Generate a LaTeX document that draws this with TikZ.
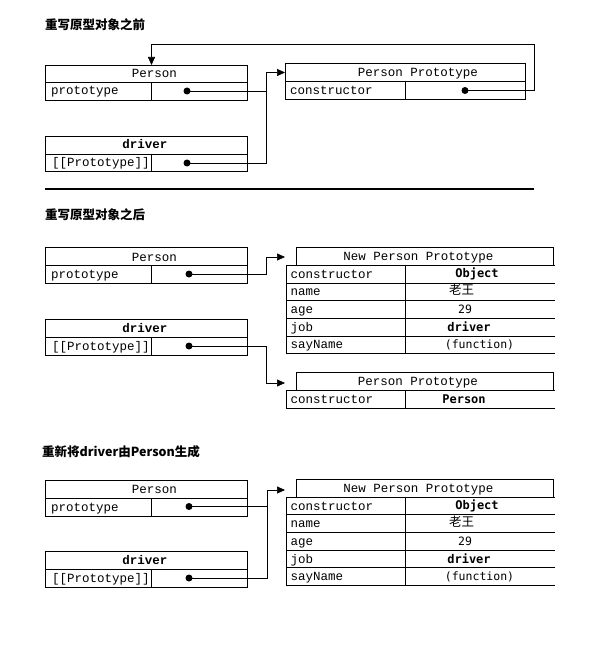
\documentclass[tikz,border=0pt]{standalone}
\usepackage{fontspec}
\setmonofont{Liberation Mono}
\newfontfamily\cjk{Noto Sans CJK SC}
\newfontfamily\valfont{DejaVu Sans Mono}
\usetikzlibrary{arrows.meta}
\tikzset{
  box/.style={draw, line width=0.9pt},
  hdr/.style={draw, line width=0.9pt, inner sep=0, outer sep=0, anchor=north west},
  htxt/.style={font=\ttfamily\fontsize{12.5}{14}\selectfont, inner sep=0, anchor=base},
  lbl/.style={font=\ttfamily\fontsize{12.5}{14}\selectfont, inner sep=0, anchor=base west},
  val/.style={font=\valfont\fontsize{11.5}{14}\selectfont, inner sep=0, anchor=base},
  bval/.style={font=\valfont\bfseries\fontsize{12}{14}\selectfont, inner sep=0, anchor=base},
  dotn/.style={circle, fill, inner sep=0, minimum size=7pt},
  link/.style={line width=0.7pt},
  tip/.style={-{Triangle[length=8pt,width=7pt]}},
  title/.style={font=\cjk\bfseries\fontsize{12.5}{14}\selectfont, anchor=west, inner sep=0},
}
\begin{document}
\begin{tikzpicture}[x=1pt,y=-1pt]
\useasboundingbox[fill=white] (0,0) rectangle (596,647);

% ================= Section 1 =================
\node[title] (t1) at (45,25) {重写原型对象之前};

% Person
\node[hdr, minimum width=201.5pt, minimum height=17.5pt] (pA) at (45.5,65) {};
\node[htxt] (pAt) at (154.5,78) {Person};
\draw[box] (45.5,82.5) rectangle (247,100) (151.5,82.5) -- (151.5,100);
\node[lbl] (pAl) at (51,95) {prototype};
\node[dotn] (pAd) at (187,91) {};

% driver
\node[hdr, minimum width=201.5pt, minimum height=18pt] (dA) at (45.5,136) {};
\node[htxt, font=\ttfamily\bfseries\fontsize{12.5}{14}\selectfont] (dAt) at (145,149) {driver};
\draw[box] (45.5,154) rectangle (247,171.5) (151.5,154) -- (151.5,171.5);
\node[lbl] (dAl) at (52,167) {[[Prototype]]};
\node[dotn] (dAd) at (187,163) {};

% Person Prototype
\node[hdr, minimum width=240pt, minimum height=18pt] (ppA) at (285,63.5) {};
\node[htxt] (ppAt) at (418,76.5) {Person Prototype};
\draw[box] (285,81.5) rectangle (525,99) (405.5,81.5) -- (405.5,99);
\node[lbl] (ppAl) at (290,94.5) {constructor};
\node[dotn] (ppAd) at (465,90.5) {};

% connectors
\coordinate (jA) at (266.5,72.5);
\draw[link] (pAd.center) -- (pAd -| jA);
\draw[link,tip] (dAd.center) -| (jA) -- (jA -| ppA.west);
\coordinate (lpA) at (534,44.5);
\coordinate (lpB) at (151.5,44.5);
\draw[link,tip] (ppAd.center) -| (lpA) -- (lpB) -- (lpB |- pA.north);

% separator rule
\coordinate (r1) at (45,189);
\coordinate (r2) at (534,189);
\draw[line width=2pt] (r1) -- (r2);

% ================= Section 2 =================
\node[title] (t2) at (45,215) {重写原型对象之后};

% Person
\node[hdr, minimum width=201.5pt, minimum height=18pt] (pB) at (45.5,247.5) {};
\node[htxt] (pBt) at (154.5,261) {Person};
\draw[box] (45.5,265.5) rectangle (247,283) (151.5,265.5) -- (151.5,283);
\node[lbl] (pBl) at (51,278) {prototype};
\node[dotn] (pBd) at (189,274) {};

% driver
\node[hdr, minimum width=201.5pt, minimum height=18pt] (dB) at (45.5,319) {};
\node[htxt, font=\ttfamily\bfseries\fontsize{12.5}{14}\selectfont] (dBt) at (145,332) {driver};
\draw[box] (45.5,337) rectangle (247,355) (151.5,337) -- (151.5,355);
\node[lbl] (dBl) at (52,350) {[[Prototype]]};
\node[dotn] (dBd) at (189,346) {};

% New Person Prototype
\node[hdr, minimum width=257pt, minimum height=18pt] (npB) at (296,247) {};
\node[htxt] (npBt) at (418.5,260) {New Person Prototype};
\draw[box] (286,265) -- (555,265) (286,283) -- (555,283) (286,300) -- (555,300)
           (286,318) -- (555,318) (286,336) -- (555,336) (286,353.5) -- (555,353.5)
           (286,265) -- (286,353.5) (405.5,265) -- (405.5,353.5);
\node[lbl] (npB1) at (290.5,278) {constructor};
\node[lbl] (npB2) at (290.5,295.5) {name};
\node[lbl] (npB3) at (290.5,313) {age};
\node[lbl] (npB4) at (290.5,331) {job};
\node[lbl] (npB5) at (290.5,348.5) {sayName};
\node[bval] (npBv1) at (477,277.5) {Object};
\node[font=\cjk\fontsize{12.5}{14}\selectfont, inner sep=0] (npBv2) at (461.5,290) {老王};
\node[val] (npBv3) at (465,313) {29};
\node[bval] (npBv4) at (469,331) {driver};
\node[val] (npBv5) at (479.5,348.5) {(function)};

% Person Prototype
\node[hdr, minimum width=257pt, minimum height=17.5pt] (ppB) at (296,372.5) {};
\node[htxt] (ppBt) at (418,385.5) {Person Prototype};
\draw[box] (286,390) -- (555,390) (286,408) -- (555,408) (286,390) -- (286,408)
           (405.5,390) -- (405.5,408);
\node[lbl] (ppB1) at (290.5,403.5) {constructor};
\node[bval] (ppBv1) at (464,403) {Person};

% connectors
\coordinate (jB1) at (266.5,257);
\coordinate (aB1) at (285,257);
\draw[link,tip] (pBd.center) -| (jB1) -- (aB1);
\coordinate (jB2) at (266.5,383);
\coordinate (aB2) at (285,383);
\draw[link,tip] (dBd.center) -| (jB2) -- (aB2);

% ================= Section 3 =================
\node[title] (t3) at (42,451.5) {重新将driver由Person生成};

% Person
\node[hdr, minimum width=201.5pt, minimum height=18pt] (pC) at (45.5,480) {};
\node[htxt] (pCt) at (154.5,493.5) {Person};
\draw[box] (45.5,498) rectangle (247,516) (151.5,498) -- (151.5,516);
\node[lbl] (pCl) at (51,511) {prototype};
\node[dotn] (pCd) at (189,506.5) {};

% driver
\node[hdr, minimum width=201.5pt, minimum height=18pt] (dC) at (45.5,551.5) {};
\node[htxt, font=\ttfamily\bfseries\fontsize{12.5}{14}\selectfont] (dCt) at (145,564.5) {driver};
\draw[box] (45.5,569.5) rectangle (247,587) (151.5,569.5) -- (151.5,587);
\node[lbl] (dCl) at (52,582.5) {[[Prototype]]};
\node[dotn] (dCd) at (189,578) {};

% New Person Prototype
\node[hdr, minimum width=257pt, minimum height=18pt] (npC) at (296,479) {};
\node[htxt] (npCt) at (418.5,492) {New Person Prototype};
\draw[box] (286,497) -- (555,497) (286,514.5) -- (555,514.5) (286,532) -- (555,532)
           (286,550) -- (555,550) (286,567.5) -- (555,567.5) (286,585) -- (555,585)
           (286,497) -- (286,585) (405.5,497) -- (405.5,585);
\node[lbl] (npC1) at (290.5,510) {constructor};
\node[lbl] (npC2) at (290.5,527.5) {name};
\node[lbl] (npC3) at (290.5,545) {age};
\node[lbl] (npC4) at (290.5,563) {job};
\node[lbl] (npC5) at (290.5,580) {sayName};
\node[bval] (npCv1) at (477,509.5) {Object};
\node[font=\cjk\fontsize{12.5}{14}\selectfont, inner sep=0] (npCv2) at (461.5,522) {老王};
\node[val] (npCv3) at (465,545) {29};
\node[bval] (npCv4) at (469,563) {driver};
\node[val] (npCv5) at (479.5,580) {(function)};

% connectors
\coordinate (jC) at (267,490);
\coordinate (aC) at (285,490);
\draw[link] (pCd.center) -- (pCd -| jC);
\draw[link,tip] (dCd.center) -| (jC) -- (aC);
\end{tikzpicture}
\end{document}
